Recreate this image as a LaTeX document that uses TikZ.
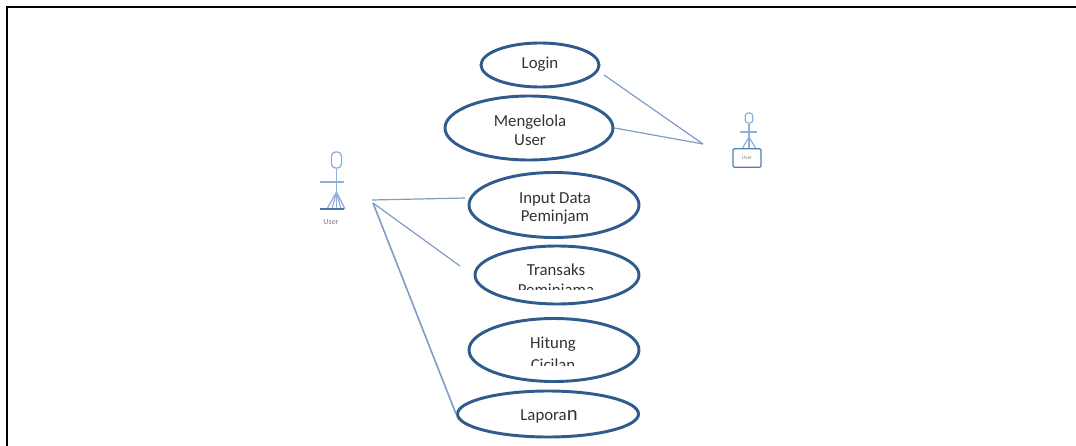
\documentclass[tikz,border=0pt]{standalone}
\usepackage{fontspec}
\setmainfont{Carlito}
\usetikzlibrary{shapes.geometric}
\definecolor{uline}{HTML}{2F5C8C}
\definecolor{conn}{HTML}{7F9CC4}
\definecolor{actor}{HTML}{8FB0DC}
\definecolor{txt}{HTML}{333333}
\tikzset{
 x=0.75pt,y=-0.75pt,
 uc/.style={ellipse,draw=uline,line width=2.2pt,fill=white,inner sep=0pt,minimum width=#1},
 lbl/.style={font=\fontsize{12.6}{14}\selectfont,text=txt,align=center},
 conline/.style={draw=conn,line width=0.9pt},
 act/.style={draw=actor,line width=0.9pt},
 tinylbl/.style={font=\fontsize{4}{4}\selectfont,text=gray,inner sep=0pt}
}
\begin{document}
\begin{tikzpicture}
\useasboundingbox (0,0) rectangle (1076,446);
\fill[white] (0,0) rectangle (1076,446);
\draw[black,line width=1.5pt] (7,446) -- (7,7) -- (1076,7);
% use cases
\node[uc=88.5pt,minimum height=33pt] (login) at (540,65) {};
\node[uc=126pt,minimum height=48pt] (mgr) at (529,128) {};
\node[uc=127.5pt,minimum height=48.75pt] (input) at (554,205) {};
\node[uc=123pt,minimum height=43.5pt] (trans) at (557,275) {};
\node[uc=127.5pt,minimum height=47.25pt] (hit) at (554,350) {};
\node[uc=135.75pt,minimum height=34.5pt] (lap) at (548,414) {};
\node[lbl] (tlogin) at (540,64) {Login};
\node[lbl] (tmgr) at (530,130) {Mengelola\\User};
\node[lbl] (tinput) at (555,208.5) {Input Data\\Peminjam};
\node[lbl] (ttrans) at (556,270) {Transaks};
\begin{scope}
\clip (480,270) rectangle (630,289);
\node[lbl] (ttrans2) at (556,291) {Peminjama};
\end{scope}
\node[lbl] (thit) at (553,344) {Hitung};
\begin{scope}
\clip (480,350) rectangle (630,365);
\node[lbl] (thit2) at (553,365) {Cicilan};
\end{scope}
\node[lbl] (tlap) at (549,416) {Lapora{\fontsize{15.5}{15.5}\selectfont n}};
% actor left
\node[draw=actor,line width=1pt,rounded corners=3pt,minimum width=7.5pt,minimum height=12pt,inner sep=0pt] (uhead) at (336.5,160) {};
\draw[act] (uhead) -- (336.5,209);
\draw[act] (320,182) -- (344,182);
\draw[act] (336.5,192) -- (327,209) (336.5,192) -- (332,209) (336.5,192) -- (341,209) (336.5,192) -- (345,209);
\draw[draw=uline!70!actor,line width=2.2pt] (320,209) -- (344,209);
\node[tinylbl,font=\fontsize{6}{6}\selectfont] (ulabel) at (331,222) {User};
% actor right
\node[draw=actor,line width=0.9pt,rounded corners=2pt,minimum width=5.5pt,minimum height=7.5pt,inner sep=0pt] (ahead) at (749,118) {};
\draw[act] (ahead) -- (749,149);
\draw[act] (740,132) -- (757,132);
\draw[act] (749,137) -- (742,149) (749,137) -- (756,149);
\node[draw=uline!60!actor,line width=0.9pt,rounded corners=1pt,minimum width=21pt,minimum height=14pt,inner sep=0pt,tinylbl] (abox) at (747,158) {User};
\coordinate (adm) at (703,144);
% connectors
\coordinate (lg) at (604,75);
\coordinate (ua) at (372,200);
\coordinate (ub) at (373,203);
\coordinate (inend) at (465,198);
\coordinate (trend) at (460,266);
\draw[conline] (lg) -- (adm);
\draw[conline] (mgr.east) -- (adm);
\draw[conline] (ua) -- (inend);
\draw[conline] (ub) -- (trend);
\draw[conn,line width=1.2pt] (ub) -- (lap.west);
\end{tikzpicture}
\end{document}
